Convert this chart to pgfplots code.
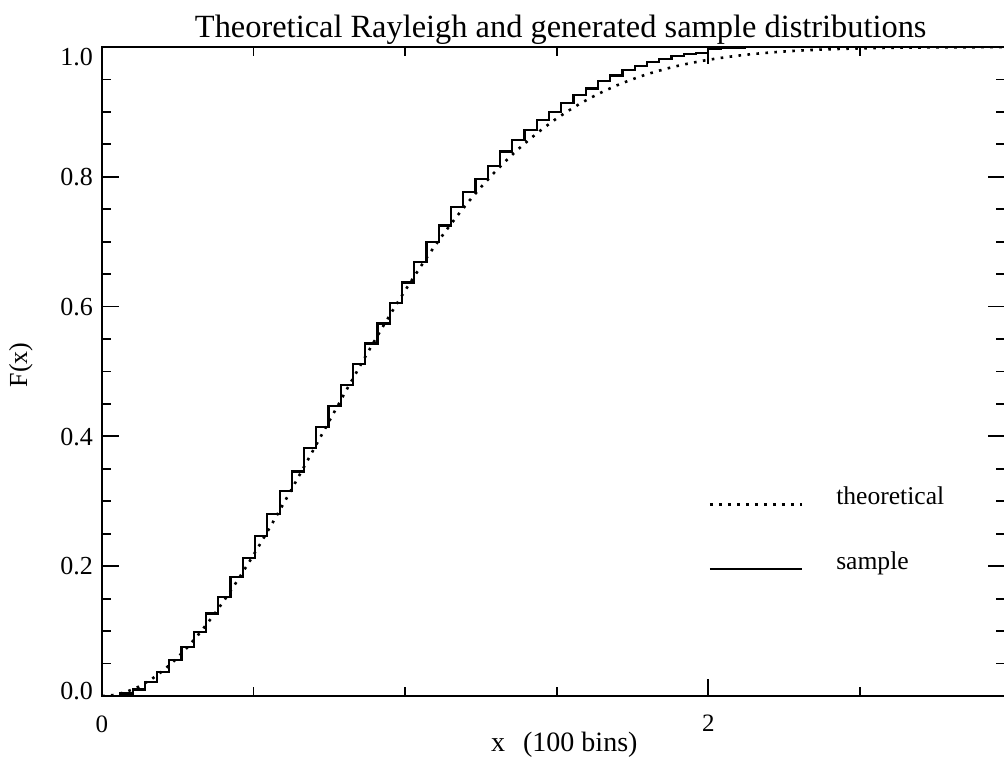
\documentclass[border=0pt]{standalone}
\usepackage{fontspec}
\setmainfont{Liberation Serif}
\usepackage{pgfplots}
\pgfplotsset{compat=1.18}
\usepackage{pgfplotstable}

\pgfplotstableread{
x T
0.0000 0.0000
0.0404 0.0016
0.0808 0.0064
0.1212 0.0143
0.1616 0.0253
0.2020 0.0392
0.2424 0.0560
0.2828 0.0754
0.3232 0.0974
0.3636 0.1216
0.4040 0.1479
0.4444 0.1761
0.4848 0.2059
0.5253 0.2370
0.5657 0.2693
0.6061 0.3024
0.6465 0.3362
0.6869 0.3703
0.7273 0.4046
0.7677 0.4388
0.8081 0.4728
0.8485 0.5063
0.8889 0.5392
0.9293 0.5712
0.9697 0.6022
1.0101 0.6322
1.0505 0.6611
1.0909 0.6887
1.1313 0.7149
1.1717 0.7397
1.2121 0.7632
1.2525 0.7852
1.2929 0.8059
1.3333 0.8250
1.3737 0.8428
1.4141 0.8592
1.4545 0.8743
1.4949 0.8882
1.5354 0.9008
1.5758 0.9124
1.6162 0.9227
1.6566 0.9321
1.6970 0.9406
1.7374 0.9481
1.7778 0.9549
1.8182 0.9609
1.8586 0.9662
1.8990 0.9709
1.9394 0.9750
1.9798 0.9786
2.0202 0.9817
2.0606 0.9844
2.1010 0.9868
2.1414 0.9889
2.1818 0.9906
2.2222 0.9921
2.2626 0.9934
2.3030 0.9945
2.3434 0.9954
2.3838 0.9962
2.4242 0.9969
2.5051 0.9979
2.5859 0.9986
2.6667 0.9991
2.7475 0.9994
2.8283 0.9996
2.9091 0.9997
2.9899 0.9998
}\theo

\pgfplotstableread{
x S
0.0000 0.000
0.0404 0.000
0.0808 0.004
0.1212 0.010
0.1616 0.021
0.2020 0.037
0.2424 0.056
0.2828 0.075
0.3232 0.099
0.3636 0.127
0.4040 0.152
0.4444 0.183
0.4848 0.213
0.5253 0.246
0.5657 0.281
0.6061 0.316
0.6465 0.346
0.6869 0.382
0.7273 0.414
0.7677 0.447
0.8081 0.479
0.8485 0.512
0.8889 0.543
0.9293 0.574
0.9697 0.605
1.0101 0.637
1.0505 0.669
1.0909 0.700
1.1313 0.725
1.1717 0.754
1.2121 0.776
1.2525 0.796
1.2929 0.817
1.3333 0.839
1.3737 0.857
1.4141 0.872
1.4545 0.888
1.4949 0.900
1.5354 0.914
1.5758 0.926
1.6162 0.936
1.6566 0.947
1.6970 0.956
1.7374 0.964
1.7778 0.971
1.8182 0.977
1.8586 0.982
1.8990 0.986
1.9394 0.989
1.9798 0.991
2.0202 0.997
2.0606 0.998
2.1010 0.999
2.1414 1.000
2.5051 1.000
2.9899 1.000
}\samp

\begin{document}
\begin{tikzpicture}
\begin{axis}[
  scale only axis, width=451.5pt, height=324.5pt,
  xmin=0, xmax=2.979, ymin=0, ymax=1,
  axis line style={line width=1pt, black},
  tick align=inside,
  major tick length=8.5pt, minor tick length=4.5pt,
  every tick/.append style={black, line width=0.9pt},
  xtick={0,2}, xticklabels={0,2},
  minor xtick={0.5,1,1.5,2.5},
  ytick={0,0.2,0.4,0.6,0.8,1},
  yticklabels={\raisebox{2.5pt}{0.0},0.2,0.4,0.6,0.8,\raisebox{-4.8pt}{1.0}},
  minor y tick num=3,
  xticklabel style={font=\fontsize{12.5pt}{15pt}\selectfont, anchor=north, inner sep=0pt, yshift=-9.5pt},
  yticklabel style={font=\fontsize{13pt}{15pt}\selectfont, anchor=base east, inner sep=0pt, xshift=-4.3pt, yshift=-4.4pt},
  title={Theoretical Rayleigh and generated sample distributions},
  title style={at={(axis description cs:0.508,1)}, anchor=base, yshift=-1.5pt, inner sep=0pt, font=\fontsize{16.2pt}{19pt}\selectfont},
  xlabel={x\hspace{9pt}(100 bins)},
  xlabel style={at={(axis description cs:0.512,0)}, anchor=base, yshift=-27.9pt, inner sep=0pt, font=\fontsize{14pt}{16pt}\selectfont},
  ylabel={F(x)},
  ylabel style={at={(axis description cs:-0.0897,0.51)}, anchor=center, inner sep=0pt, font=\fontsize{13pt}{15pt}\selectfont},
  legend style={draw=none, fill=none, inner sep=0pt, at={(axis cs:2.0,0.3236)}, anchor=north west,
    row sep=20.5pt, column sep=16.5pt, font=\fontsize{12.8pt}{15pt}\selectfont,
    nodes={inner sep=0pt, text height=9pt, text depth=3pt, anchor=base west}},
  legend cell align=left,
  legend image code/.code={\draw[#1] (0pt,0pt) -- (46pt,0pt);},
]
\addplot[black, line width=1.3pt, dash pattern=on 1.3pt off 3.2pt] table[x=x,y=T]{\theo};
\addlegendentry{theoretical}
\addplot[black, line width=1.1pt, const plot mark mid] table[x=x,y=S]{\samp};
\addlegendentry{sample}
\end{axis}
\pgfresetboundingbox
\path[use as bounding box] ([xshift=-51pt,yshift=-33.5pt]current axis.south west) rectangle ++(502pt,381.5pt);
\end{tikzpicture}
\end{document}
